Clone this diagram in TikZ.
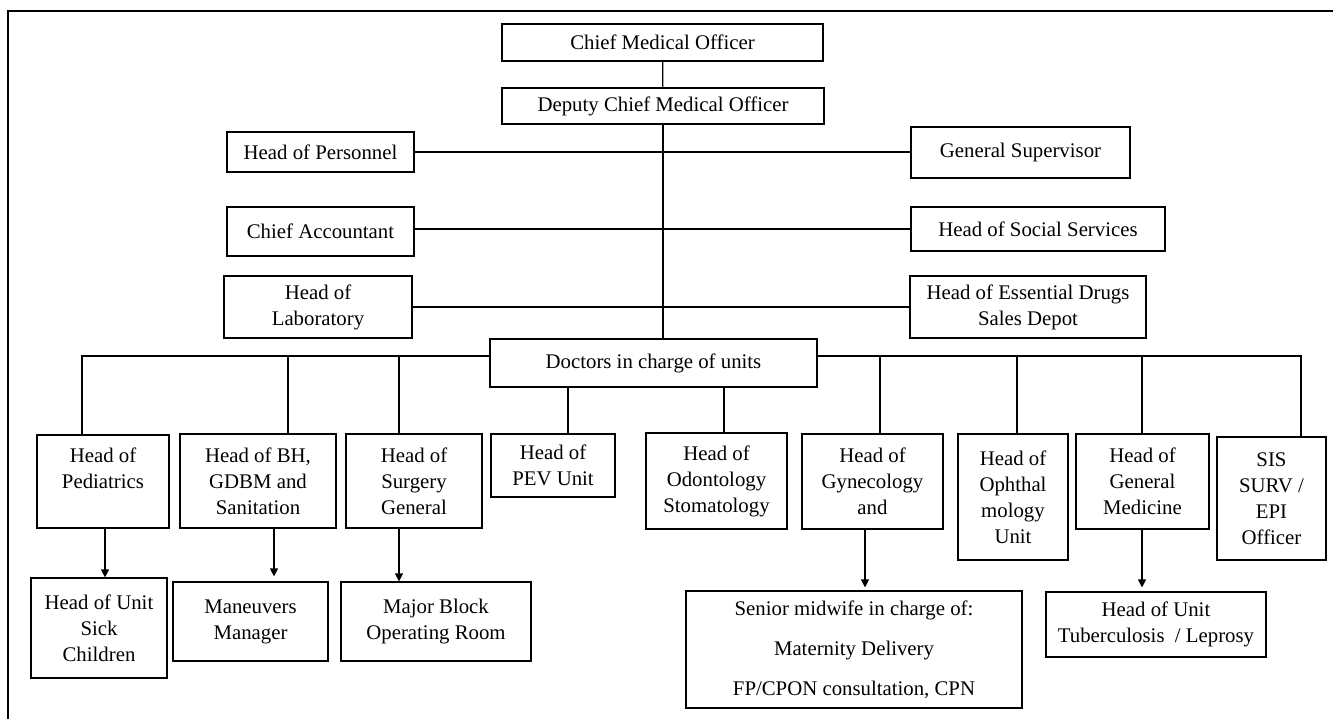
\documentclass[tikz,border=0pt]{standalone}
\usepackage{fontspec}
\setmainfont{Liberation Serif}
\usetikzlibrary{arrows.meta, positioning}

\begin{document}
\begin{tikzpicture}[
    x=0.5pt, y=-0.5pt,
    every node/.style={font=\fontsize{10.4pt}{13pt}\selectfont},
    unit/.style={draw, line width=0.6pt, align=center, inner sep=0pt},
    link/.style={line width=0.6pt},
    arr/.style={-{Triangle[length=4pt, width=4pt]}, line width=0.6pt}
]
\useasboundingbox (0,0) rectangle (1333,719);
\draw[link] (8,719) -- (8,11) -- (1333,11);

% management
\node[unit, minimum width=160.5pt, minimum height=18.5pt] (cmo)  at (662.5,42.5) {Chief Medical Officer};
\node[unit, minimum width=161pt, minimum height=18pt]     (dcmo) at (663,106) {Deputy Chief Medical Officer};
\node[unit, minimum width=93.5pt, minimum height=20pt]    (pers) at (320.5,152) {Head of Personnel};
\node[unit, minimum width=109.5pt, minimum height=25.5pt] (gsup) at (1020.5,152.5) {General Supervisor};
\node[unit, minimum width=93.5pt, minimum height=24.5pt]  (acct) at (320.5,231.5) {Chief Accountant};
\node[unit, minimum width=127pt, minimum height=22pt]     (soc)  at (1038,229) {Head of Social Services};
\node[unit, minimum width=94pt, minimum height=31pt]      (lab)  at (318,307) {Head of\\Laboratory};
\node[unit, minimum width=118pt, minimum height=31pt]     (drug) at (1028,307) {Head of Essential Drugs\\Sales Depot};
\node[unit, minimum width=163.5pt, minimum height=24pt]   (doc)  at (653.5,363) {Doctors in charge of units};

\draw[link] (cmo) -- (dcmo);
\draw[link] (dcmo.south) -- (dcmo.south |- doc.north);
\draw[link] (pers.east) -- (pers.east -| gsup.west);
\draw[link] (acct.east |- soc.west) -- (soc.west);
\draw[link] (lab.east) -- (drug.west);

% units
\node[unit, minimum width=66pt, minimum height=46.5pt]   (pedi) at (103,481.5) {Head of\\Pediatrics\\~};
\node[unit, minimum width=78pt, minimum height=47pt]     (bh)   at (258,481) {Head of BH,\\GDBM and\\Sanitation};
\node[unit, minimum width=68pt, minimum height=47pt]     (surg) at (414,481) {Head of\\Surgery\\General};
\node[unit, minimum width=62pt, minimum height=31.5pt]   (pev)  at (553,465.5) {Head of\\PEV Unit};
\node[unit, minimum width=70.5pt, minimum height=48pt]   (odo)  at (716.5,481) {Head of\\Odontology\\Stomatology};
\node[unit, minimum width=70.5pt, minimum height=47.5pt] (gyn)  at (872.5,481.5) {Head of\\Gynecology\\and};
\node[unit, minimum width=55pt, minimum height=63pt]     (oph)  at (1013,497) {Head of\\Ophthal\\mology\\Unit};
\node[unit, minimum width=66.5pt, minimum height=47.5pt] (gmed) at (1142.5,481.5) {Head of\\General\\Medicine};
\node[unit, minimum width=54.5pt, minimum height=61.5pt] (sis)  at (1271.5,498.5) {SIS\\SURV /\\EPI\\Officer};

\coordinate (busL) at ([yshift=3.5pt]doc.west);
\coordinate (busR) at ([yshift=3.5pt]doc.east);
\draw[link] (busL) -| ([xshift=-10.5pt]pedi.north);
\draw[link] (busL) -| ([xshift=15pt]bh.north);
\draw[link] (busL) -| ([xshift=-7.5pt]surg.north);
\draw[link] ([xshift=7.5pt]pev.north |- doc.south) -- ([xshift=7.5pt]pev.north);
\draw[link] ([xshift=3.75pt]odo.north |- doc.south) -- ([xshift=3.75pt]odo.north);
\draw[link] (busR) -| ([xshift=3.75pt]gyn.north);
\draw[link] (busR) -| ([xshift=2pt]oph.north);
\draw[link] (busR) -| ([xshift=-0.25pt]gmed.north);
\draw[link] (busR) -| ([xshift=14.75pt]sis.north);

% sub units
\node[unit, minimum width=68pt, minimum height=50pt]    (sick)  at (99,628) {Head of Unit\\Sick\\Children};
\node[unit, minimum width=77.5pt, minimum height=39.5pt] (man)  at (250.5,621.5) {Maneuvers\\Manager};
\node[unit, minimum width=95pt, minimum height=39.5pt]  (major) at (436,621.5) {Major Block\\Operating Room};
\node[unit, minimum width=168pt, minimum height=58.5pt] (mid)   at (854,649.5) {Senior midwife in charge of:\\[7pt]Maternity Delivery\\[7pt]FP/CPON consultation, CPN};
\node[unit, minimum width=110pt, minimum height=32.5pt] (tb)    at (1156,624.5) {Head of Unit\\Tuberculosis~ / Leprosy};

\draw[arr] ([xshift=1pt]pedi.south) -- ([xshift=1pt]pedi.south |- sick.north);
\draw[arr, shorten >=2.5pt] ([xshift=8pt]bh.south) -- ([xshift=8pt]bh.south |- man.north);
\draw[arr] ([xshift=-7.5pt]surg.south) -- ([xshift=-7.5pt]surg.south |- major.north);
\draw[arr, shorten >=1.5pt] ([xshift=-3.75pt]gyn.south) -- ([xshift=-3.75pt]gyn.south |- mid.north);
\draw[arr, shorten >=2pt] ([xshift=-0.25pt]gmed.south) -- ([xshift=-0.25pt]gmed.south |- tb.north);

\end{tikzpicture}
\end{document}
